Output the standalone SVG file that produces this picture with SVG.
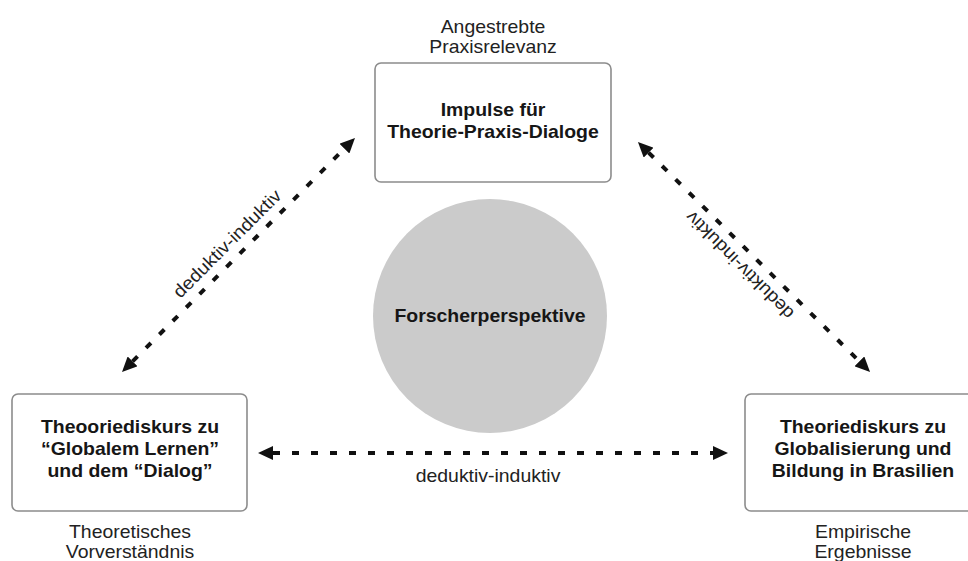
<svg xmlns="http://www.w3.org/2000/svg" width="968" height="561" viewBox="0 0 968 561">
  <style>
    .box { fill: #ffffff; stroke: #8c8c8c; stroke-width: 1.6; }
    .hub { fill: #cbcbcb; }
    .title { font-family: "Liberation Sans", Arial, sans-serif; font-weight: bold; font-size: 18px; fill: #161616; text-anchor: middle; }
    .note { font-family: "Liberation Sans", Arial, sans-serif; font-size: 18px; fill: #222222; text-anchor: middle; }
    .link { fill: none; stroke: #111111; stroke-width: 4; stroke-dasharray: 7 12; }
  </style>
  <defs>
    <marker id="tip" viewBox="0 0 15 14" refX="0" refY="7" markerWidth="15" markerHeight="14" markerUnits="userSpaceOnUse" orient="auto-start-reverse">
      <path d="M0,0 L15,7 L0,14 Z" fill="#111111"/>
    </marker>
  </defs>

  <rect width="968" height="561" fill="#ffffff"/>

  <!-- central perspective -->
  <g id="forscherperspektive">
    <circle class="hub" cx="490" cy="316" r="117"/>
    <g transform="translate(490 0) scale(1.08 1)">
      <text class="title" x="0" y="322">Forscherperspektive</text>
    </g>
  </g>

  <!-- top: practice relevance -->
  <g id="impulse">
    <rect class="box" x="375" y="63" width="236" height="119" rx="6"/>
    <g transform="translate(493 0) scale(1.08 1)">
      <text class="note" x="0" y="33">Angestrebte</text>
      <text class="note" x="0" y="53">Praxisrelevanz</text>
      <text class="title" x="0" y="116">Impulse für</text>
      <text class="title" x="0" y="138">Theorie-Praxis-Dialoge</text>
    </g>
  </g>

  <!-- bottom left: theoretical understanding -->
  <g id="globales-lernen">
    <rect class="box" x="12" y="394" width="235" height="117" rx="6"/>
    <g transform="translate(130 0) scale(1.08 1)">
      <text class="title" x="0" y="433">Theooriediskurs zu</text>
      <text class="title" x="0" y="455">“Globalem Lernen”</text>
      <text class="title" x="0" y="477">und dem “Dialog”</text>
      <text class="note" x="0" y="538">Theoretisches</text>
      <text class="note" x="0" y="558">Vorverständnis</text>
    </g>
  </g>

  <!-- bottom right: empirical results -->
  <g id="brasilien">
    <rect class="box" x="745" y="394" width="235" height="117" rx="6"/>
    <g transform="translate(863 0) scale(1.08 1)">
      <text class="title" x="0" y="433">Theoriediskurs zu</text>
      <text class="title" x="0" y="455">Globalisierung und</text>
      <text class="title" x="0" y="477">Bildung in Brasilien</text>
      <text class="note" x="0" y="538">Empirische</text>
      <text class="note" x="0" y="558">Ergebnisse</text>
    </g>
  </g>

  <!-- two-way connectors -->
  <g id="connectors">
    <line class="link" x1="132.6" y1="361.4" x2="344.4" y2="148.6" marker-start="url(#tip)" marker-end="url(#tip)"/>
    <line class="link" x1="648.6" y1="152.6" x2="859.4" y2="361.4" marker-start="url(#tip)" marker-end="url(#tip)"/>
    <line class="link" x1="273" y1="453" x2="713" y2="453" marker-start="url(#tip)" marker-end="url(#tip)"/>
    <g transform="translate(238.5 255) rotate(-45) scale(1.08 1)">
      <text class="note" x="0" y="-10">deduktiv-induktiv</text>
    </g>
    <g transform="translate(751 254) rotate(225) scale(1.08 1)">
      <text class="note" x="0" y="-10">deduktiv-induktiv</text>
    </g>
    <g transform="translate(488 0) scale(1.08 1)">
      <text class="note" x="0" y="482">deduktiv-induktiv</text>
    </g>
  </g>
</svg>
